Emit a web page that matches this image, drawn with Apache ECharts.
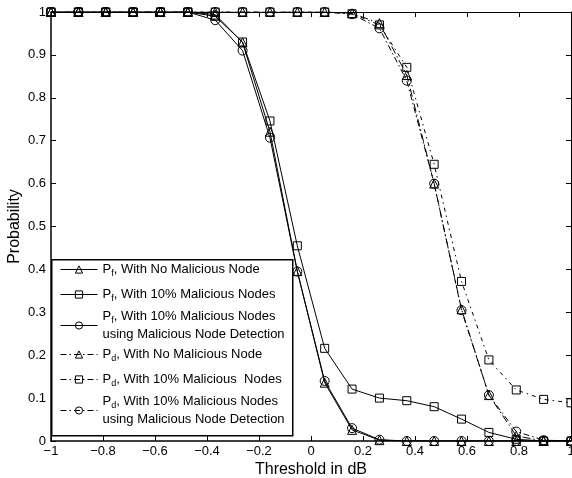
<!DOCTYPE html>
<html><head><meta charset="utf-8">
<script src="https://cdn.jsdelivr.net/npm/echarts@6/dist/echarts.min.js"></script>
<style>html,body{margin:0;padding:0;background:#fff}#c{width:572px;height:478px}</style>
</head><body><div id="c"></div>
<script>
var xVals = [-1, -0.8947, -0.7895, -0.6842, -0.5789, -0.4737, -0.3684, -0.2632, -0.1579, -0.0526, 0.0526, 0.1579, 0.2632, 0.3684, 0.4737, 0.5789, 0.6842, 0.7895, 0.8947, 1];
var pfNone = [1, 1, 1, 1, 1, 1, 0.994, 0.929, 0.721, 0.396, 0.136, 0.026, 0.002, 0, 0, 0, 0, 0, 0, 0];
var pf10   = [1, 1, 1, 1, 1, 1, 0.99, 0.93, 0.746, 0.455, 0.216, 0.121, 0.100, 0.094, 0.080, 0.051, 0.020, 0.004, 0, 0];
var pfDet  = [1, 1, 1, 1, 1, 1, 0.981, 0.91, 0.707, 0.395, 0.14, 0.03, 0.003, 0, 0, 0, 0, 0, 0, 0];
var pdNone = [1, 1, 1, 1, 1, 1, 1, 1, 1, 1, 1, 0.997, 0.974, 0.853, 0.600, 0.307, 0.107, 0.012, 0, 0];
var pd10   = [1, 1, 1, 1, 1, 1, 1, 1, 1, 1, 1, 0.996, 0.970, 0.871, 0.645, 0.372, 0.189, 0.119, 0.097, 0.089];
var pdDet  = [1, 1, 1, 1, 1, 1, 1, 1, 1, 1, 1, 0.995, 0.962, 0.840, 0.600, 0.305, 0.107, 0.022, 0.002, 0];

var seriesNames = ['pfNone', 'pf10', 'pfDet', 'pdNone', 'pd10', 'pdDet'];
var seriesData = [pfNone, pf10, pfDet, pdNone, pd10, pdDet];
var seriesSymbols = ['triangle', 'rect', 'circle', 'triangle', 'rect', 'circle'];
var legendLabels = [
  '{p|P}{s|f}{p|, With No Malicious Node}',
  '{p|P}{s|f}{p|, With 10% Malicious Nodes}',
  '{p|P}{s|f}{p|, With 10% Malicious Nodes}\n{p|using Malicious Node Detection}',
  '{p|P}{s|d}{p|, With No Malicious Node}',
  '{p|P}{s|d}{p|, With 10% Malicious  Nodes}',
  '{p|P}{s|d}{p|, With 10% Malicious Nodes}\n{p|using Malicious Node Detection}'
];
var legendCenters = [272, 297, 328, 357, 382, 413];
var legendLines = [1, 1, 2, 1, 1, 2];

var FONT = 'Liberation Sans, Arial, Helvetica, sans-serif';
var dashTypes = ['solid', 'solid', 'solid', [8, 3, 1.5, 3], [4, 4, 1.5, 4], [6, 3, 1.5, 3]];

function pairs(arr) { return arr.map(function (v, i) { return [xVals[i], v]; }); }
function minus(v) { return String(v).replace('-', '\u2212'); }

var series = seriesData.map(function (d, i) {
  return {
    name: seriesNames[i], type: 'line', data: pairs(d),
    symbol: seriesSymbols[i], symbolSize: seriesSymbols[i] === 'rect' ? 8 : 9,
    showSymbol: true, silent: true, animation: false,
    lineStyle: { color: '#000', width: 1, type: dashTypes[i] },
    itemStyle: { color: 'rgba(255,255,255,0)', borderColor: '#000', borderWidth: 1 },
    emphasis: { disabled: true }, z: 2
  };
});

var legends = seriesNames.map(function (n, i) {
  var h = legendLines[i] * 18;
  return {
    data: [n], left: 60, top: legendCenters[i] - h / 2, padding: 0,
    itemWidth: 37, itemHeight: 9, selectedMode: false, z: 6,
    itemStyle: { color: 'rgba(255,255,255,0)', borderColor: '#000', borderWidth: 1 },
    lineStyle: { width: 1, color: '#000', type: i >= 3 ? [6, 3, 1.5, 3] : 'solid' },
    formatter: function () { return legendLabels[i]; },
    textStyle: {
      rich: {
        p: { fontSize: 13, fontFamily: FONT, color: '#000', lineHeight: 18 },
        s: { fontSize: 9, fontFamily: FONT, color: '#000', lineHeight: 18, verticalAlign: 'bottom' }
      }
    }
  };
});

var chart = echarts.init(document.getElementById('c'), null, { renderer: 'canvas' });
chart.setOption({
  backgroundColor: '#fff',
  animation: false,
  grid: { left: 51, right: 1, top: 12, bottom: 37, containLabel: false, outerBoundsMode: 'none' },
  legend: legends,
  graphic: [{
    type: 'rect', z: 5, left: 51, top: 259,
    shape: { width: 241, height: 176 },
    style: { fill: '#fff', stroke: '#000', lineWidth: 1.5 }
  }],
  xAxis: [{
    type: 'value', min: -1, max: 1, interval: 0.2, position: 'bottom',
    name: 'Threshold in dB', nameLocation: 'middle', nameGap: 21, nameMoveOverlap: false,
    nameTextStyle: { fontSize: 16, fontFamily: FONT, color: '#000' },
    axisLine: { onZero: false, lineStyle: { color: '#000', width: 1.5 } },
    axisTick: { inside: true, length: 5, lineStyle: { color: '#000' } },
    axisLabel: { fontSize: 13, fontFamily: FONT, color: '#000', margin: 4, formatter: minus, hideOverlap: false },
    splitLine: { show: false }
  }, {
    type: 'value', min: -1, max: 1, interval: 0.2, position: 'top',
    axisLine: { onZero: false, lineStyle: { color: '#000', width: 1 } },
    axisTick: { inside: true, length: 5, lineStyle: { color: '#000' } },
    axisLabel: { show: false }, splitLine: { show: false }
  }],
  yAxis: [{
    type: 'value', min: 0, max: 1, interval: 0.1, position: 'left',
    name: 'Probability', nameLocation: 'middle', nameGap: 28, nameRotate: 90, nameMoveOverlap: false,
    nameTextStyle: { fontSize: 16, fontFamily: FONT, color: '#000' },
    axisLine: { show: true, onZero: false, lineStyle: { color: '#000', width: 1.5 } },
    axisTick: { show: true, inside: true, length: 5, lineStyle: { color: '#000' } },
    axisLabel: { fontSize: 13, fontFamily: FONT, color: '#000', margin: 5,
      formatter: function (v) { return String(Math.round(v * 10) / 10); } },
    splitLine: { show: false }
  }, {
    type: 'value', min: 0, max: 1, interval: 0.1, position: 'right',
    axisLine: { show: true, onZero: false, lineStyle: { color: '#000', width: 1 } },
    axisTick: { show: true, inside: true, length: 5, lineStyle: { color: '#000' } },
    axisLabel: { show: false }, splitLine: { show: false }
  }],
  series: series
});
</script>
</body></html>
